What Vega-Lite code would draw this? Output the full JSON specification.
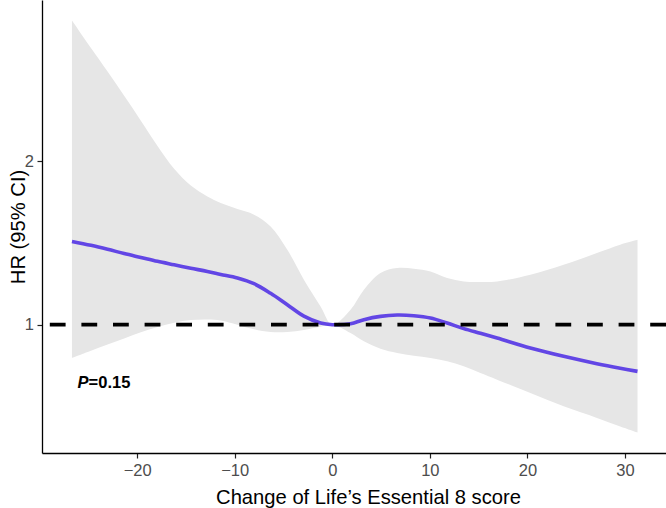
{
  "$schema": "https://vega.github.io/schema/vega-lite/v6.json",
  "autosize": {"type": "none"},
  "padding": {"left": 42, "top": 0, "right": 0, "bottom": 55},
  "width": 624,
  "height": 453,
  "config": {
    "view": {"stroke": null},
    "font": "Liberation Sans",
    "axis": {
      "grid": false,
      "domainColor": "#000000",
      "domainWidth": 1.3,
      "tickColor": "#222222",
      "tickWidth": 1.2,
      "tickSize": 5,
      "labelColor": "#4D4D4D",
      "labelFontSize": 16.5,
      "labelFont": "Liberation Sans",
      "titleFont": "Liberation Sans",
      "titleFontSize": 20.2,
      "titleFontWeight": "normal",
      "titleColor": "#000000"
    }
  },
  "datasets": {
    "curve": [
      {"x": -26.68, "hr": 1.510, "lo": 0.796, "hi": 2.863},
      {"x": -24.73, "hr": 1.486, "lo": 0.840, "hi": 2.695},
      {"x": -23.03, "hr": 1.462, "lo": 0.878, "hi": 2.551},
      {"x": -21.33, "hr": 1.436, "lo": 0.915, "hi": 2.402},
      {"x": -19.62, "hr": 1.412, "lo": 0.953, "hi": 2.250},
      {"x": -17.91, "hr": 1.388, "lo": 0.986, "hi": 2.095},
      {"x": -16.21, "hr": 1.367, "lo": 1.012, "hi": 1.955},
      {"x": -14.50, "hr": 1.346, "lo": 1.028, "hi": 1.852},
      {"x": -12.80, "hr": 1.326, "lo": 1.032, "hi": 1.785},
      {"x": -11.43, "hr": 1.308, "lo": 1.026, "hi": 1.745},
      {"x": -9.72, "hr": 1.286, "lo": 1.000, "hi": 1.708},
      {"x": -8.02, "hr": 1.251, "lo": 0.972, "hi": 1.674},
      {"x": -6.32, "hr": 1.192, "lo": 0.955, "hi": 1.602},
      {"x": -4.61, "hr": 1.122, "lo": 0.955, "hi": 1.459},
      {"x": -2.91, "hr": 1.052, "lo": 0.968, "hi": 1.276},
      {"x": -1.20, "hr": 1.010, "lo": 0.987, "hi": 1.112},
      {"x": 0, "hr": 1.000, "lo": 1.000, "hi": 1.000},
      {"x": 1.87, "hr": 1.006, "lo": 0.949, "hi": 1.092},
      {"x": 3.24, "hr": 1.031, "lo": 0.898, "hi": 1.214},
      {"x": 4.94, "hr": 1.051, "lo": 0.853, "hi": 1.317},
      {"x": 6.65, "hr": 1.059, "lo": 0.827, "hi": 1.347},
      {"x": 8.35, "hr": 1.055, "lo": 0.810, "hi": 1.343},
      {"x": 10.06, "hr": 1.041, "lo": 0.796, "hi": 1.326},
      {"x": 11.77, "hr": 1.010, "lo": 0.776, "hi": 1.286},
      {"x": 13.47, "hr": 0.976, "lo": 0.745, "hi": 1.265},
      {"x": 15.18, "hr": 0.947, "lo": 0.704, "hi": 1.262},
      {"x": 16.89, "hr": 0.918, "lo": 0.663, "hi": 1.265},
      {"x": 20.30, "hr": 0.857, "lo": 0.582, "hi": 1.306},
      {"x": 23.71, "hr": 0.806, "lo": 0.500, "hi": 1.367},
      {"x": 27.12, "hr": 0.761, "lo": 0.429, "hi": 1.439},
      {"x": 29.51, "hr": 0.733, "lo": 0.377, "hi": 1.490},
      {"x": 31.28, "hr": 0.714, "lo": 0.340, "hi": 1.520}
    ],
    "ref": [{"hr": 1}],
    "note": [{"p": "P", "rest": "=0.15"}]
  },
  "layer": [
    {
      "data": {"name": "curve"},
      "mark": {"type": "area", "color": "#E6E6E6", "opacity": 1, "interpolate": "catmull-rom"},
      "encoding": {
        "x": {
          "field": "x",
          "type": "quantitative",
          "scale": {"domain": [-29.75, 34.2], "nice": false, "zero": false},
          "axis": {
            "title": "Change of Life’s Essential 8 score",
            "values": [-20, -10, 0, 10, 20, 30],
            "labelPadding": 4,
            "titleBaseline": "alphabetic",
            "titleX": 326,
            "titleY": 50
          }
        },
        "y": {
          "field": "lo",
          "type": "quantitative",
          "scale": {"domain": [0.214, 2.989], "nice": false, "zero": false},
          "axis": {
            "title": "HR (95% CI)",
            "values": [1, 2],
            "format": "d",
            "labelPadding": 3.5,
            "titleX": -18,
            "titleBaseline": "alphabetic"
          }
        },
        "y2": {"field": "hi"}
      }
    },
    {
      "data": {"name": "curve"},
      "mark": {"type": "line", "color": "#6246E5", "strokeWidth": 3.6, "interpolate": "catmull-rom"},
      "encoding": {
        "x": {"field": "x", "type": "quantitative"},
        "y": {"field": "hr", "type": "quantitative"}
      }
    },
    {
      "data": {"name": "ref"},
      "mark": {"type": "rule", "color": "#000000", "strokeWidth": 3.8, "strokeDash": [15.8, 15.8]},
      "encoding": {
        "y": {"field": "hr", "type": "quantitative"}
      }
    },
    {
      "data": {"name": "note"},
      "mark": {"type": "text", "align": "left", "baseline": "middle", "fontSize": 16.5, "fontWeight": "bold", "fontStyle": "italic", "color": "#000000"},
      "encoding": {
        "x": {"datum": -26.1},
        "y": {"datum": 0.645},
        "text": {"field": "p"}
      }
    },
    {
      "data": {"name": "note"},
      "mark": {"type": "text", "align": "left", "baseline": "middle", "fontSize": 16.5, "fontWeight": "bold", "dx": 11, "color": "#000000"},
      "encoding": {
        "x": {"datum": -26.1},
        "y": {"datum": 0.645},
        "text": {"field": "rest"}
      }
    }
  ]
}
